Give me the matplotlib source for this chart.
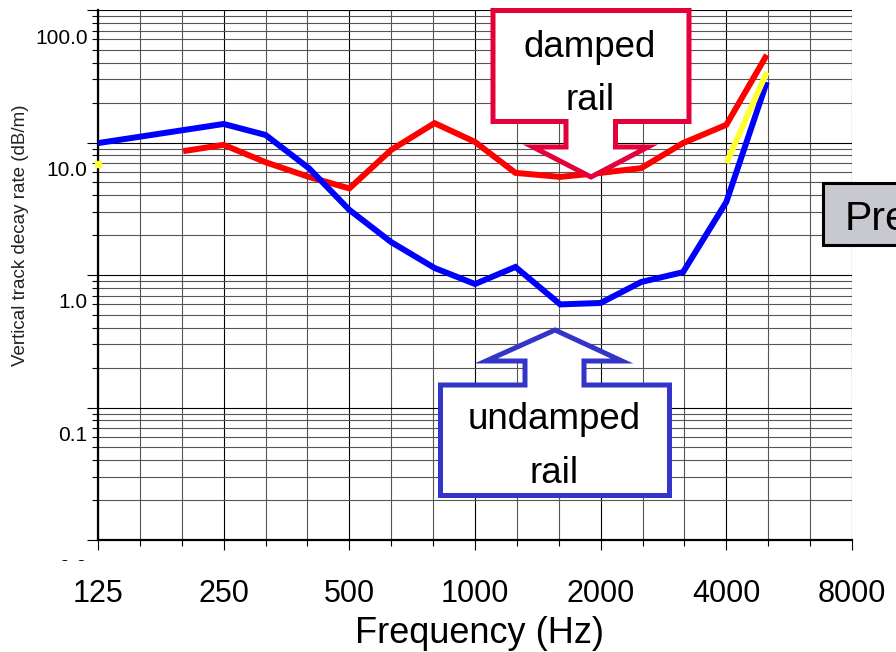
import numpy as np
import matplotlib
matplotlib.use('Agg')
import matplotlib.pyplot as plt
from matplotlib.patches import Polygon, Rectangle
from matplotlib.ticker import FixedLocator, LogLocator, NullFormatter
from matplotlib.transforms import Bbox, TransformedBbox

# data (1/3 octave bands)
freqs_undamped = [125, 250, 315, 400, 500, 630, 800, 1000, 1250, 1600, 2000, 2500, 3150, 4000, 5000]
undamped = [9.9, 13.8, 11.4, 6.4, 3.1, 1.77, 1.13, 0.855, 1.15, 0.60, 0.615, 0.885, 1.05, 3.56, 28.6]

freqs_damped = [200, 250, 315, 400, 500, 630, 800, 1000, 1250, 1600, 2000, 2500, 3150, 4000, 5000]
damped = [8.6, 9.6, 7.1, 5.5, 4.5, 8.8, 14.0, 10.1, 5.9, 5.5, 5.9, 6.4, 9.9, 13.6, 45.8]

freqs_yellow = [125, 4000, 5000]
yellow = [6.9, 7.0, 34.0]

octave_freqs = [125, 250, 500, 1000, 2000, 4000, 8000]
octave_labels = ['125', '250', '500', '1000', '2000', '4000', '8000']
decades = [100, 10, 1, 0.1, 0.01]
decade_labels = ['100.0', '10.0', '1.0', '0.1', '0.0']

W, H = 896, 652
PT = 0.72  # points per pixel at dpi 100

plt.rcParams['font.family'] = ['Liberation Sans', 'DejaVu Sans']


def fx(x):
    return x / W


def fy(y):
    return 1 - y / H


fig = plt.figure(figsize=(W / 100, H / 100), dpi=100)
ax = fig.add_axes([fx(98), fy(540), (852 - 98) / W, (540 - 10) / H])
ax.set_xscale('log', base=2)
ax.set_yscale('log')
ax.set_xlim(125, 8000)
ax.set_ylim(0.01, 100)

ax.xaxis.set_major_locator(FixedLocator(octave_freqs))
ax.xaxis.set_minor_locator(FixedLocator(np.geomspace(125, 8000, 19)))
ax.yaxis.set_major_locator(LogLocator(base=10, numticks=10))
ax.yaxis.set_minor_locator(LogLocator(base=10, subs=np.arange(2, 10), numticks=10))
for a in (ax.xaxis, ax.yaxis):
    a.set_major_formatter(NullFormatter())
    a.set_minor_formatter(NullFormatter())

ax.grid(which='minor', color='#555555', lw=0.8)
ax.grid(which='major', color='black', lw=0.8)
ax.set_axisbelow(True)
ax.tick_params(axis='y', which='major', length=8, width=0.8)
ax.tick_params(axis='y', which='minor', length=4.5, width=0.8)
ax.tick_params(axis='x', which='major', length=7.5, width=0.8)
ax.tick_params(axis='x', which='minor', length=4, width=0.8)
for s in ('top', 'right'):
    ax.spines[s].set_visible(False)
for s in ('left', 'bottom'):
    ax.spines[s].set_linewidth(1.6)

ax.plot(freqs_damped, damped, color='#ff0000', lw=4.3,
        solid_joinstyle='miter', solid_capstyle='butt', zorder=3)
ax.plot(freqs_undamped, undamped, color='#0000ff', lw=4.3,
        solid_joinstyle='miter', solid_capstyle='butt', zorder=3)
ax.plot(freqs_yellow[1:], yellow[1:], color='#ffff33', lw=4.3,
        solid_capstyle='butt', zorder=3)
ax.plot(freqs_yellow[:1], yellow[:1], ls='none', marker='s', ms=4.5,
        color='#ffff33', mec='#ffff33', clip_on=False, zorder=3)

# tick labels sit below their grid lines in the original
for v, lbl in zip(decades, decade_labels):
    t = ax.annotate(lbl, xy=(0, v), xycoords=('axes fraction', 'data'),
                    xytext=(-10.5 * PT, -33.5 * PT), textcoords='offset points',
                    ha='right', va='baseline', fontsize=15, annotation_clip=False)
    t.set_clip_box(TransformedBbox(Bbox.from_extents(0, fy(561), 1, 1), fig.transFigure))
    t.set_clip_on(True)

for f, lbl in zip(octave_freqs, octave_labels):
    ax.annotate(lbl, xy=(f, 0), xycoords=('data', 'axes fraction'),
                xytext=(0, -62 * PT), textcoords='offset points',
                ha='center', va='baseline', fontsize=22, annotation_clip=False)

fig.text(fx(479), fy(643), 'Frequency (Hz)', ha='center', va='baseline', fontsize=26)
fig.text(fx(21), fy(235), 'Vertical track decay rate (dB/m)', rotation=90,
         ha='center', va='center', fontsize=13.5, color='#222222')

# callout boxes
damped_box = [(493, 121.5), (493, 10.5), (689, 10.5), (689, 121.5), (615.5, 121.5),
              (615.5, 147), (648, 147), (591, 177), (533, 147), (566, 147), (566, 121.5)]
undamped_box = [(440.5, 495.5), (440.5, 385), (525, 385), (525, 361), (486, 361),
                (555, 330), (622, 361), (584, 361), (584, 385), (669.5, 385), (669.5, 495.5)]

for pts, col in ((damped_box, '#e3003b'), (undamped_box, '#3434c8')):
    poly = Polygon([(fx(x), fy(y)) for x, y in pts], closed=True, transform=fig.transFigure,
                   facecolor='white', edgecolor=col, lw=3.6, joinstyle='miter', zorder=5)
    fig.add_artist(poly)

fig.text(fx(590), fy(57), 'damped', ha='center', va='baseline', fontsize=26.5, zorder=6)
fig.text(fx(590), fy(110), 'rail', ha='center', va='baseline', fontsize=26.5, zorder=6)
fig.text(fx(554), fy(429), 'undamped', ha='center', va='baseline', fontsize=26.5, zorder=6)
fig.text(fx(554), fy(483), 'rail', ha='center', va='baseline', fontsize=26.5, zorder=6)

fig.add_artist(Rectangle((fx(823), fy(245)), 90 / W, 62 / H, transform=fig.transFigure,
                         facecolor='#c8c8d0', edgecolor='black', lw=2.2, zorder=5))
fig.text(fx(845), fy(230), 'Pre', ha='left', va='baseline', fontsize=29.5, zorder=6)

plt.savefig('out.png', dpi=100)
plt.close()
